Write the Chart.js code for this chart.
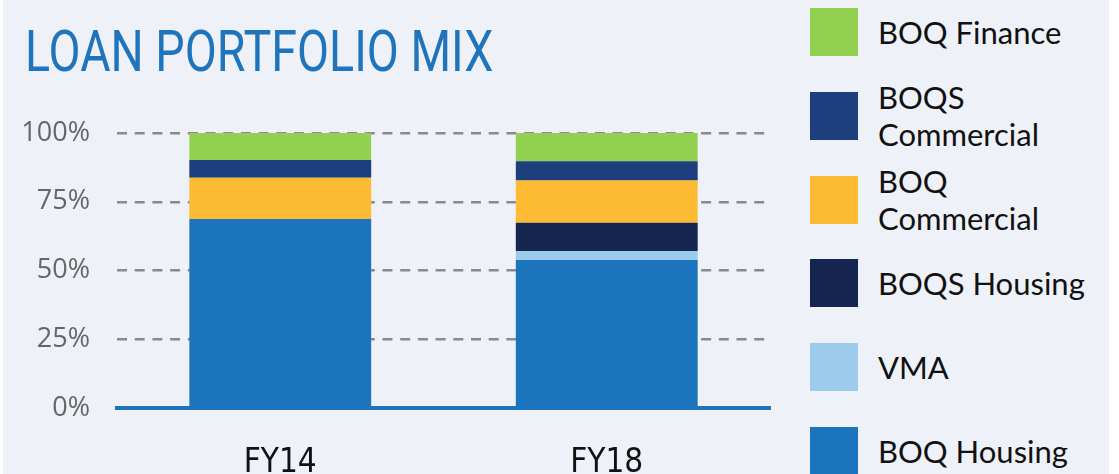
<!DOCTYPE html>
<html>
<head>
<meta charset="utf-8">
<script src="https://cdn.jsdelivr.net/npm/chart.js@4"></script>
<style>
  body { margin: 0; background: #fff; }
  #panel { position: absolute; left: 3px; top: 0; width: 1106px; height: 474px; background: #eef1f8; overflow: hidden; }
  #title { position: absolute; left: 22px; top: 18px; font-family: Roboto, sans-serif; font-size: 58px; color: #1f75bd;
           transform-origin: left top; white-space: nowrap; line-height: 66px; }
  #wrap { position: absolute; left: -3px; top: 0; width: 790px; height: 474px; }
  .lg { position: absolute; left: 807px; display: flex; align-items: center; height: 48px; }
  .lg .box { width: 48px; height: 48px; flex: none; }
  .lg .txt { margin-left: 20px; font-family: Lato, sans-serif; font-size: 31px; line-height: 37px; color: #111; width: 225px; }
</style>
</head>
<body>
<div id="panel">
  <div id="wrap"><canvas id="mix" width="790" height="474"></canvas></div>
  <div id="title">LOAN PORTFOLIO MIX</div>
  <div id="legend"></div>
</div>
<script>
let years = ["FY14", "FY18"];
let names = ["BOQ Housing", "VMA", "BOQS Housing", "BOQ Commercial", "BOQS Commercial", "BOQ Finance"];
let colours = ["#1c75bc", "#9ccbec", "#14264f", "#fdbb33", "#1d3f7e", "#92d050"];
let boqHousing = [68.7, 53.8];
let vma = [0, 3.3];
let boqsHousing = [0, 10.3];
let boqCommercial = [15.0, 15.3];
let boqsCommercial = [6.5, 7.0];
let boqFinance = [9.8, 10.3];
let yTicks = [0, 25, 50, 75, 100];

let values = [boqHousing, vma, boqsHousing, boqCommercial, boqsCommercial, boqFinance];

// squeeze the title like the condensed original
let t = document.getElementById("title");
t.style.transform = "scaleX(" + (468 / t.offsetWidth) + ")";

// legend on the right, top entry = top of the stack
let legend = document.getElementById("legend");
for (let i = names.length - 1; i >= 0; i--) {
  let row = document.createElement("div");
  row.className = "lg";
  row.style.top = (8 + (names.length - 1 - i) * 83.8) + "px";
  let box = document.createElement("div");
  box.className = "box";
  box.style.background = colours[i];
  let txt = document.createElement("div");
  txt.className = "txt";
  txt.textContent = names[i];
  row.appendChild(box);
  row.appendChild(txt);
  legend.appendChild(row);
}

let chart_mix = new Chart(document.getElementById("mix"), {
  type: 'bar',
  data: {
    labels: years,
    datasets: names.map((n, i) => ({
      label: n,
      data: values[i],
      backgroundColor: colours[i],
      borderWidth: 0,
      barPercentage: 0.557,
      categoryPercentage: 1
    }))
  },
  options: {
    responsive: false,
    animation: false,
    layout: { padding: { top: 133, right: 20, left: 0, bottom: 0 } },
    plugins: { legend: { display: false }, tooltip: { enabled: false } },
    scales: {
      x: {
        stacked: true,
        grid: { display: false },
        border: { color: '#1c75bc', width: 4 },
        ticks: { color: '#111', padding: 28, font: { family: 'DejaVu Sans Condensed', size: 33 } },
        afterFit: s => { s.height = 66; }
      },
      y: {
        stacked: true,
        min: 0,
        max: 100,
        afterBuildTicks: s => { s.ticks = yTicks.map(v => ({ value: v })); },
        grid: {
          drawTicks: false,
          color: c => c.tick && c.tick.value === 0 ? 'rgba(0,0,0,0)' : '#8a8a8a',
          lineWidth: 2.5
        },
        border: { display: false, dash: [10, 7.7] },
        ticks: {
          color: '#666',
          padding: 27,
          font: { family: 'Open Sans', size: 27 },
          callback: v => v + '%'
        },
        afterFit: s => { s.width = 117; }
      }
    }
  }
});
</script>
</body>
</html>
